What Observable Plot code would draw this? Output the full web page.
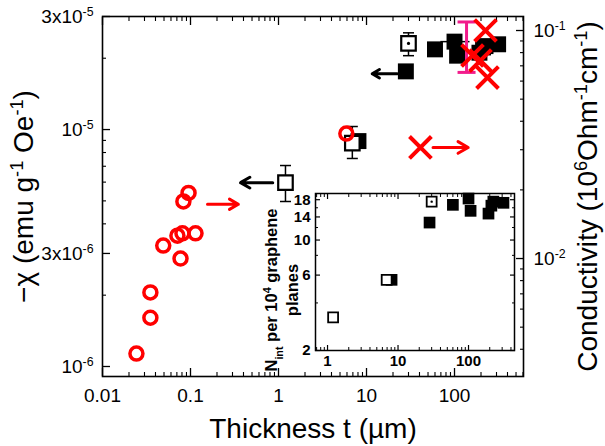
<!DOCTYPE html>
<html>
<head>
<meta charset="utf-8">
<script src="https://cdn.jsdelivr.net/npm/d3@7"></script>
<script src="https://cdn.jsdelivr.net/npm/@observablehq/plot@0.6"></script>
<style>
  body { margin: 0; background: #fff; }
  #chart { position: relative; width: 605px; height: 446px; }
  #chart svg { position: absolute; left: 0; top: 0; }
</style>
</head>
<body>
<div id="chart"></div>
<script>
// ---- Bulk samples (diamagnetic susceptibility, left axis; inset N_int) ----
const bulkT   = [8.1, 28, 60, 100, 107, 192, 211, 225, 313];
const bulkChi = [8.94e-6, 1.76e-5, 2.18e-5, 2.35e-5, 2.05e-5, 2.11e-5, 2.22e-5, 2.25e-5, 2.29e-5];
const bulkN   = [5.6, 12.9, 16.7, 18.3, 15.3, 14.7, 16.5, 17.5, 17.2];

// Open squares with vertical error bars
const openT     = [1.2, 6.9, 30];
const openChi   = [5.97e-6, 8.77e-6, 2.31e-5];
const openChiLo = [4.97e-6, 7.55e-6, 2.05e-5];
const openChiHi = [7.05e-6, 1.03e-5, 2.56e-5];
const openN     = [3.24, 5.6, 17.5];

// Horizontal error bar on the 100 µm sample
const hErrT1 = [70], hErrT2 = [150], hErrChi = [2.35e-5];

// ---- Conductivity (right axis) ----
const filmT     = [0.095, 0.083, 0.049, 0.071, 0.081, 0.114, 0.077, 0.035, 0.035, 0.0243, 5.9];
const filmSigma = [0.0194, 0.0178, 0.0114, 0.0126, 0.0129, 0.0129, 0.0100, 0.0071, 0.0055, 0.00383, 0.0353];
const crossT     = [41, 160, 197, 225, 237];
const crossSigma = [0.0307, 0.0777, 0.0738, 0.1, 0.0622];
const pinkT = [137], pinkLo = [0.0655], pinkHi = [0.109];

// Arrows pointing to the axis each series belongs to
const chiArrowT1 = [0.86, 22.4], chiArrowT2 = [0.37, 11.6], chiArrowV = [5.97e-6, 1.72e-5];
const sigArrowT1 = [0.156, 57], sigArrowT2 = [0.35, 143], sigArrowV = [0.0173, 0.0307];

// ---- Axis ticks and titles ----
const xTicks = [0.01, 0.1, 1, 10, 100];
const chiTicks = [1e-6, 3e-6, 1e-5, 3e-5];
const chiTickLabels = ["10^{-6}", "3x10^{-6}", "10^{-5}", "3x10^{-5}"];
const sigmaTicks = [0.01, 0.1];
const sigmaTickLabels = ["10^{-2}", "10^{-1}"];
const insetXTicks = [1, 10, 100];
const insetYTicks = [2, 6, 10, 14, 18];
const insetYMinor = [4, 8, 12, 16];
const xTitle = "Thickness t (µm)";
const chiTitle = "−χ (emu g^{-1} Oe^{-1})";
const sigmaTitle = "Conductivity (10^{6}Ohm^{-1}cm^{-1})";
const nTitle = "N_{int} per 10^{4} graphene\nplanes";

const FONT = "'Liberation Sans', Arial, Helvetica, sans-serif";
const RED = "#ff0000", PINK = "#f21c8c";

// log minor ticks (2..9 per decade) inside [lo, hi], excluding the given majors
function minorTicks(lo, hi, majors) {
  const out = [];
  for (let e = Math.floor(Math.log10(lo)); e <= Math.ceil(Math.log10(hi)); e++) {
    for (let m = 1; m <= 9; m++) {
      const v = +(m * Math.pow(10, e)).toPrecision(6);
      if (v >= lo && v <= hi && !majors.some(t => Math.abs(t - v) / v < 1e-6)) out.push(v);
    }
  }
  return out;
}

// horizontal cap used for error bars
const cap = {draw(ctx, size) { const w = Math.sqrt(size / Math.PI); ctx.moveTo(-w, 0); ctx.lineTo(w, 0); }};
const idx = n => d3.range(n);
const centred = {textAnchor: "middle", lineAnchor: "middle", text: d => d};

const xDomain = [0.01, 608];
const chiDomain = [9.074e-7, 3e-5];
const sigmaDomain = [0.003038, 0.1152];
const margins = {marginLeft: 102, marginRight: 82, marginTop: 16, marginBottom: 70};

const xMinor = minorTicks(xDomain[0], xDomain[1], xTicks);
const chiMinor = minorTicks(chiDomain[0], chiDomain[1], chiTicks);
const sigmaMinor = minorTicks(sigmaDomain[0], sigmaDomain[1], sigmaTicks);
const insetXDomain = [0.675, 449];
const insetXMinor = minorTicks(insetXDomain[0], insetXDomain[1], insetXTicks);
const blank = () => "";

// Main panel: susceptibility vs thickness
const main = Plot.plot({
  width: 605, height: 446, ...margins,
  style: {fontFamily: FONT, background: "none", overflow: "visible", color: "black"},
  x: {type: "log", domain: xDomain},
  y: {type: "log", domain: chiDomain},
  marks: [
    Plot.axisX({ticks: xTicks, anchor: "bottom", tickSize: -8, tickPadding: 20, fontSize: 19, strokeWidth: 1.3, tickFormat: d => String(d), label: null}),
    Plot.axisX({ticks: xMinor, anchor: "bottom", tickSize: -4, strokeWidth: 1.1, tickFormat: blank, label: null}),
    Plot.axisX({ticks: xTicks, anchor: "top", tickSize: -8, strokeWidth: 1.3, tickFormat: blank, label: null}),
    Plot.axisX({ticks: xMinor, anchor: "top", tickSize: -4, strokeWidth: 1.1, tickFormat: blank, label: null}),
    Plot.axisY({ticks: chiTicks, anchor: "left", tickSize: -8, tickPadding: 17, fontSize: 19, strokeWidth: 1.3, tickFormat: d => chiTickLabels[chiTicks.indexOf(d)], label: null}),
    Plot.axisY({ticks: chiMinor, anchor: "left", tickSize: -4, strokeWidth: 1.1, tickFormat: blank, label: null}),
    Plot.frame({stroke: "black", strokeWidth: 1.6}),
    Plot.text([xTitle], {frameAnchor: "bottom", dy: 53, fontSize: 28, ...centred}),
    Plot.text([chiTitle], {frameAnchor: "left", dx: -78, rotate: -90, fontSize: 28, ...centred}),
    // error bars
    Plot.ruleX(idx(openT.length), {x: i => openT[i], y1: i => openChiLo[i], y2: i => openChiHi[i], stroke: "black", strokeWidth: 1.5}),
    Plot.dot(idx(openT.length), {x: i => openT[i], y: i => openChiLo[i], symbol: cap, r: 5.5, stroke: "black", fill: "none", strokeWidth: 1.5}),
    Plot.dot(idx(openT.length), {x: i => openT[i], y: i => openChiHi[i], symbol: cap, r: 5.5, stroke: "black", fill: "none", strokeWidth: 1.5}),
    Plot.ruleY(idx(hErrT1.length), {x1: i => hErrT1[i], x2: i => hErrT2[i], y: i => hErrChi[i], stroke: "black", strokeWidth: 1.5}),
    // samples
    Plot.dot(idx(bulkT.length), {x: i => bulkT[i], y: i => bulkChi[i], symbol: "square", r: 9, fill: "black", stroke: "none"}),
    Plot.dot(idx(openT.length), {x: i => openT[i], y: i => openChi[i], symbol: "square", r: 8.2, fill: "white", stroke: "black", strokeWidth: 2.2}),
    Plot.dot([2], {x: i => openT[i], y: i => openChi[i], r: 1.6, fill: "black"}),
    Plot.arrow(idx(chiArrowT1.length), {x1: i => chiArrowT1[i], x2: i => chiArrowT2[i], y1: i => chiArrowV[i], y2: i => chiArrowV[i], stroke: "black", strokeWidth: 3, headLength: 11})
  ]
});

// Overlay sharing the x scale: conductivity on the right axis
const overlay = Plot.plot({
  width: 605, height: 446, ...margins,
  style: {fontFamily: FONT, background: "none", overflow: "visible", color: "black"},
  x: {type: "log", domain: xDomain, axis: null},
  y: {type: "log", domain: sigmaDomain},
  marks: [
    Plot.axisY({ticks: sigmaTicks, anchor: "right", tickSize: -8, tickPadding: 18, fontSize: 19, strokeWidth: 1.3, tickFormat: d => sigmaTickLabels[sigmaTicks.indexOf(d)], label: null}),
    Plot.axisY({ticks: sigmaMinor, anchor: "right", tickSize: -4, strokeWidth: 1.1, tickFormat: blank, label: null}),
    Plot.text([sigmaTitle], {frameAnchor: "right", dx: 65, rotate: -90, fontSize: 28, ...centred}),
    Plot.ruleX(idx(pinkT.length), {x: i => pinkT[i], y1: i => pinkLo[i], y2: i => pinkHi[i], stroke: PINK, strokeWidth: 3}),
    Plot.dot(idx(pinkT.length), {x: i => pinkT[i], y: i => pinkLo[i], symbol: cap, r: 9, stroke: PINK, fill: "none", strokeWidth: 3}),
    Plot.dot(idx(pinkT.length), {x: i => pinkT[i], y: i => pinkHi[i], symbol: cap, r: 9, stroke: PINK, fill: "none", strokeWidth: 3}),
    Plot.dot(idx(filmT.length), {x: i => filmT[i], y: i => filmSigma[i], r: 6.5, fill: "none", stroke: RED, strokeWidth: 3.5}),
    Plot.dot(idx(crossT.length), {x: i => crossT[i], y: i => crossSigma[i], symbol: "times", r: 10, fill: "none", stroke: RED, strokeWidth: 4}),
    Plot.arrow(idx(sigArrowT1.length), {x1: i => sigArrowT1[i], x2: i => sigArrowT2[i], y1: i => sigArrowV[i], y2: i => sigArrowV[i], stroke: RED, strokeWidth: 3, headLength: 11})
  ]
});

// Inset: intercalant layers per 10^4 graphene planes
const inset = Plot.plot({
  width: 280, height: 210,
  marginLeft: 65, marginRight: 16, marginTop: 23, marginBottom: 30,
  style: {fontFamily: FONT, fontWeight: "bold", background: "none", overflow: "visible", color: "black"},
  x: {type: "log", domain: insetXDomain},
  y: {type: "log", domain: [2, 19.7]},
  marks: [
    Plot.frame({fill: "white"}),
    Plot.axisX({ticks: insetXTicks, anchor: "bottom", tickSize: -5, tickPadding: 10, fontSize: 15, strokeWidth: 1.2, tickFormat: d => String(d), label: null}),
    Plot.axisX({ticks: insetXMinor, anchor: "bottom", tickSize: -3, strokeWidth: 1, tickFormat: blank, label: null}),
    Plot.axisX({ticks: insetXTicks, anchor: "top", tickSize: -5, strokeWidth: 1.2, tickFormat: blank, label: null}),
    Plot.axisX({ticks: insetXMinor, anchor: "top", tickSize: -3, strokeWidth: 1, tickFormat: blank, label: null}),
    Plot.axisY({ticks: insetYTicks, anchor: "left", tickSize: -5, tickPadding: 10, fontSize: 15, strokeWidth: 1.2, tickFormat: d => String(d), label: null}),
    Plot.axisY({ticks: insetYMinor, anchor: "left", tickSize: -3, strokeWidth: 1, tickFormat: blank, label: null}),
    Plot.axisY({ticks: insetYTicks, anchor: "right", tickSize: -5, strokeWidth: 1.2, tickFormat: blank, label: null}),
    Plot.axisY({ticks: insetYMinor, anchor: "right", tickSize: -3, strokeWidth: 1, tickFormat: blank, label: null}),
    Plot.frame({stroke: "black", strokeWidth: 1.5}),
    Plot.text([nTitle], {frameAnchor: "left", dx: -35, dy: 18, rotate: -90, fontSize: 16.5, lineHeight: 1.3, ...centred}),
    Plot.dot(idx(bulkT.length), {x: i => bulkT[i], y: i => bulkN[i], symbol: "square", r: 6.6, fill: "black", stroke: "none"}),
    Plot.dot(idx(openT.length), {x: i => openT[i], y: i => openN[i], symbol: "square", r: 5.6, fill: "white", stroke: "black", strokeWidth: 1.8}),
    Plot.dot([2], {x: i => openT[i], y: i => openN[i], r: 1.2, fill: "black"})
  ]
});
inset.style.left = "250px";
inset.style.top = "170px";

// turn ^{..} and _{..} into raised / lowered tspans
function richText(svg) {
  svg.querySelectorAll("text, tspan").forEach(el => {
    if (el.children.length) return;
    const s = el.textContent;
    if (!/[\^_]\{/.test(s)) return;
    el.textContent = "";
    for (const p of s.split(/([\^_]\{[^}]*\})/)) {
      if (!p) continue;
      const t = document.createElementNS("http://www.w3.org/2000/svg", "tspan");
      const m = p.match(/^([\^_])\{([^}]*)\}$/);
      if (m) {
        t.textContent = m[2];
        t.style.fontSize = "65%";
        t.style.baselineShift = m[1] === "^" ? "super" : "sub";
      } else {
        t.textContent = p;
      }
      el.appendChild(t);
    }
  });
}

const chart = document.getElementById("chart");
for (const svg of [main, overlay, inset]) {
  richText(svg);
  chart.appendChild(svg);
}
</script>
</body>
</html>
